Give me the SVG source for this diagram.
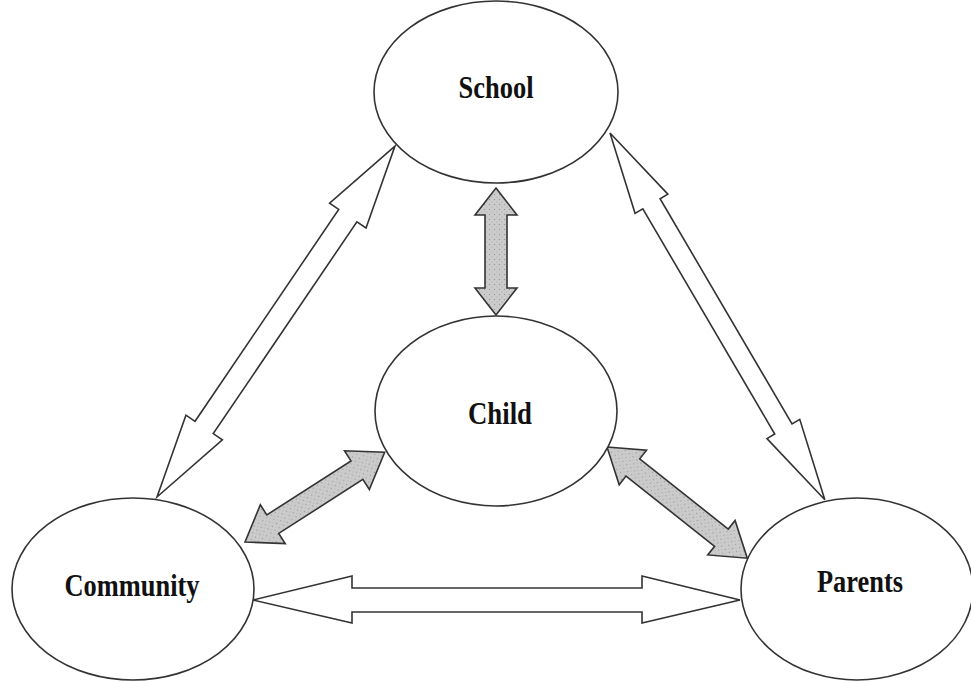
<svg xmlns="http://www.w3.org/2000/svg" width="971" height="683" viewBox="0 0 971 683">
<style>
.node{fill:#ffffff;stroke:#333333;stroke-width:1.6}
.lbl{font-family:"Liberation Serif","Times New Roman",serif;font-weight:bold;font-size:31px;fill:#111111;text-anchor:middle}
.white{fill:#ffffff;stroke:#333333;stroke-width:1.6;stroke-linejoin:miter}
.gray{fill:url(#stip);stroke:#333333;stroke-width:1.6;stroke-linejoin:miter}
</style>
<defs>
<pattern id="stip" width="5" height="5" patternUnits="userSpaceOnUse">
<rect width="5" height="5" fill="#cccccc"/>
<circle cx="1.5" cy="1.5" r="0.7" fill="#999999"/>
<circle cx="4" cy="4" r="0.6" fill="#a8a8a8"/>
</pattern>
</defs>
<rect width="971" height="683" fill="#ffffff"/>
<g id="connectors">
<polygon class="white" transform="translate(157,497) rotate(-55.86)" points="0,0 84,-22 84,-11 340,-11 340,-22 424,0 340,22 340,11 84,11 84,22"/>
<polygon class="white" transform="translate(610,133) rotate(59.64)" points="0,0 82,-19 82,-10 343,-10 343,-19 425,0 343,19 343,10 82,10 82,19"/>
<polygon class="white" points="253,600 352,576 352,588 642,588 642,576 740,600 642,623 642,612 352,612 352,623"/>
<polygon class="gray" transform="translate(496,188) rotate(90)" points="0,0 27,-21 27,-11 100,-11 100,-21 127,0 100,21 100,11 27,11 27,21"/>
<polygon class="gray" transform="translate(245,542) rotate(-32.7)" points="0,0 33,-23 33,-11 133,-11 133,-23 166,0 133,23 133,11 33,11 33,23"/>
<polygon class="gray" transform="translate(607,447) rotate(38.4)" points="0,0 33,-22 33,-11 146,-11 146,-22 179,0 146,22 146,11 33,11 33,22"/>
</g>
<g id="school">
<ellipse class="node" cx="496" cy="92" rx="122" ry="91"/>
<text class="lbl" x="496" y="98" textLength="75" lengthAdjust="spacingAndGlyphs">School</text>
</g>
<g id="child">
<ellipse class="node" cx="496" cy="411" rx="121" ry="95"/>
<text class="lbl" x="500" y="424" textLength="64" lengthAdjust="spacingAndGlyphs">Child</text>
</g>
<g id="community">
<ellipse class="node" cx="133" cy="589" rx="121" ry="91"/>
<text class="lbl" x="132" y="596" textLength="135" lengthAdjust="spacingAndGlyphs">Community</text>
</g>
<g id="parents">
<ellipse class="node" cx="857" cy="589" rx="116" ry="91"/>
<text class="lbl" x="860" y="592" textLength="86" lengthAdjust="spacingAndGlyphs">Parents</text>
</g>
</svg>
